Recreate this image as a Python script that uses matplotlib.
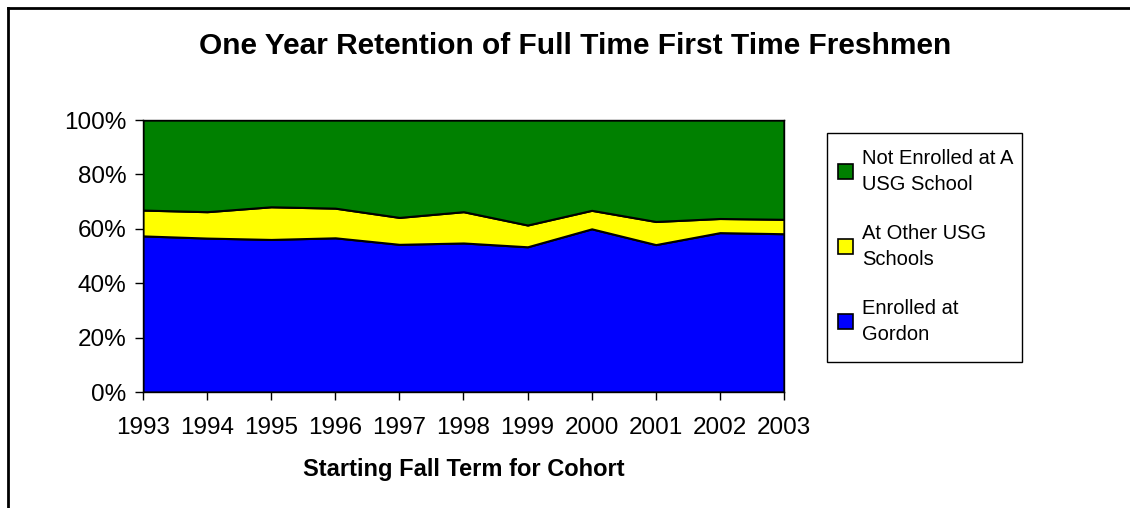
import matplotlib
matplotlib.use('Agg')
import matplotlib.pyplot as plt
import matplotlib.ticker as ticker
from matplotlib.patches import Patch, Rectangle
from matplotlib.lines import Line2D

plt.rcParams['font.family'] = ['Liberation Sans', 'DejaVu Sans']

# Data (percent of cohort)
years = [1993, 1994, 1995, 1996, 1997, 1998, 1999, 2000, 2001, 2002, 2003]
enrolled_gordon = [57.4, 56.6, 56.1, 56.7, 54.3, 54.8, 53.4, 60.0, 54.2, 58.6, 58.2]
other_usg = [9.5, 9.7, 12.0, 10.9, 9.9, 11.5, 8.0, 6.8, 8.5, 5.2, 5.3]
not_enrolled = [100 - g - o for g, o in zip(enrolled_gordon, other_usg)]

series_labels = ['Enrolled at\nGordon', 'At Other USG\nSchools', 'Not Enrolled at A\nUSG School']
colors = ['#0000FF', '#FFFF00', '#008000']

W, H = 1130, 508
fig = plt.figure(figsize=(11.3, 5.08), dpi=100)
ax = fig.add_axes([0.1265, 0.2283, 0.5673, 0.5354])

ax.stackplot(years, enrolled_gordon, other_usg, not_enrolled,
             colors=colors, edgecolor='black', linewidth=1.5)

ax.set_xlim(years[0], years[-1])
ax.set_ylim(0, 100)
ax.set_xticks(years)
ax.set_yticks(range(0, 101, 20))
ax.yaxis.set_major_formatter(ticker.FuncFormatter(lambda v, p: f'{int(v)}%'))
ax.tick_params(axis='both', direction='out', length=6, width=1, labelsize=17.5, pad=6)
ax.tick_params(axis='x', pad=12)
for s in ax.spines.values():
    s.set_color('black')
    s.set_linewidth(1)

ax.set_xlabel('Starting Fall Term for Cohort', fontsize=17, fontweight='bold', labelpad=14)
fig.text(0.509, 0.91, 'One Year Retention of Full Time First Time Freshmen',
         ha='center', va='center', fontsize=21.5, fontweight='bold')

# Legend box drawn separately, legend entries placed inside it
fig.add_artist(Rectangle((827 / W, 1 - 362 / H), 195 / W, 229 / H, transform=fig.transFigure,
                         facecolor='none', edgecolor='black', linewidth=1))
handles = [Patch(facecolor=c, edgecolor='black', linewidth=1.2) for c in colors][::-1]
leg = fig.legend(handles, series_labels[::-1], loc='upper left',
                 bbox_to_anchor=(838 / W, 1 - 149 / H), frameon=False,
                 fontsize=14.5, handlelength=0.75, handleheight=0.75, handletextpad=0.45,
                 labelspacing=1.5, borderpad=0, borderaxespad=0)
for t in leg.get_texts():
    t.set_linespacing(1.45)

# Outer chart border (top and left visible)
fig.add_artist(Line2D([8 / W, 8 / W], [0, 1 - 7.5 / H], transform=fig.transFigure,
                      color='black', linewidth=2))
fig.add_artist(Line2D([8 / W, 1], [1 - 7.5 / H, 1 - 7.5 / H], transform=fig.transFigure,
                      color='black', linewidth=2))

fig.savefig('out.png', dpi=100)
